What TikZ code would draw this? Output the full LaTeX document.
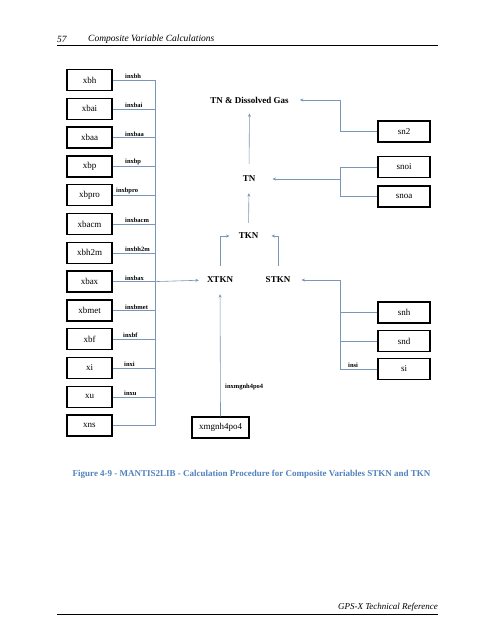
\documentclass[tikz,border=0pt]{standalone}
\usepackage{fontspec}
\setmainfont{Liberation Serif}
\usetikzlibrary{arrows.meta}

\definecolor{linkblue}{HTML}{7A96B8}
\definecolor{captionblue}{HTML}{4F81BD}

\tikzset{
  varbox/.style={draw,line width=1.3pt,minimum width=45pt,minimum height=21pt,inner sep=0pt,font=\fontsize{9}{10}\selectfont},
  sumnode/.style={inner sep=0pt,font=\bfseries\fontsize{9}{10}\selectfont},
  link/.style={draw=linkblue,line width=0.6pt},
  linkarrow/.style={link,-{Stealth[length=3.5pt,width=3pt]},shorten >=10pt},
  inlabel/.style={anchor=south west,inner sep=1pt,font=\bfseries\fontsize{6.5}{7}\selectfont}
}

\begin{document}
\begin{tikzpicture}[x=1pt,y=-1pt]
        \useasboundingbox (0,0) rectangle (495,640);

        % header and footer
        \node[anchor=west,inner sep=0pt,font=\itshape\fontsize{9.5}{11}\selectfont] (pageno) at (57,39) {57};
        \node[anchor=west,inner sep=0pt,font=\itshape\fontsize{9.5}{11}\selectfont] (chapter) at (88,39) {Composite Variable Calculations};
        \draw[line width=1pt] (57,45)--(438,45);
        \node[anchor=east,inner sep=0pt,font=\itshape\fontsize{9}{11}\selectfont] (manual) at (438,607) {GPS-X Technical Reference};
        \draw[line width=0.8pt] (57,614)--(438,614);

        % state variables on the left, all into one bus
        \foreach \name/\lx [count=\i from 0] in {xbh/124,xbai/124,xbaa/124,xbp/124,xbpro/115,xbacm/124,xbh2m/124,xbax/124,xbmet/124,xbf/122,xi/123,xu/123,xns/0}
        {
            \node[varbox] (\name) at (89.5,80+28.8*\i) {\name};
            \coordinate (bus\i) at (155,80+28.8*\i);
            \draw[link] (\name.east)--(bus\i);
            \ifnum\lx>0
                \node[inlabel] (in\name) at (\lx,80+28.8*\i) {in\name};
            \fi
        }
        \draw[link] (bus0)--(bus12);

        % composite variables
        \node[sumnode] (tndg) at (249.5,100) {TN \& Dissolved Gas};
        \node[sumnode] (tn) at (249,179) {TN};
        \node[sumnode] (tkn) at (248.5,236) {TKN};
        \node[sumnode] (xtkn) at (220,280) {XTKN};
        \node[sumnode] (stkn) at (278,280) {STKN};

        \draw[linkarrow,shorten <=12pt] (tn.north)--(tndg.south);
        \draw[linkarrow,shorten <=10pt,shorten >=11pt] (tkn.north)--(tn.south);
        \draw[linkarrow,shorten <=11pt,shorten >=9pt] (xtkn.north)|-(tkn.west);
        \draw[linkarrow,shorten <=11pt,shorten >=13pt] (stkn.north)|-(tkn.east);
        \draw[linkarrow,shorten >=8pt] (bus7)--(xtkn.west);

        % xmgnh4po4 from below
        \node[varbox,minimum width=57pt] (xmgnh4po4) at (220.5,427.5) {xmgnh4po4};
        \node[inlabel,anchor=west] (inxmgnh4po4) at (224,387) {inxmgnh4po4};
        \draw[linkarrow,shorten >=11pt] (xmgnh4po4.north)--(xtkn.south);

        % state variables on the right
        \node[varbox,minimum width=52pt] (sn2) at (404,131.5) {sn2};
        \node[varbox,minimum width=52pt] (snoi) at (404,167) {snoi};
        \node[varbox,minimum width=52pt] (snoa) at (404,196.5) {snoa};
        \node[varbox,minimum width=52pt] (snh) at (404,312.5) {snh};
        \node[varbox,minimum width=52pt] (snd) at (404,341) {snd};
        \node[varbox,minimum width=52pt] (si) at (404,369) {si};
        \node[inlabel] (insi) at (347,369) {insi};

        \coordinate (gasbend) at (340,100);
        \coordinate (orgjoin) at (340,179);
        \coordinate (solbus) at (340,280);

        \draw[linkarrow,shorten >=11pt] (sn2.west)-|(gasbend)--(tndg.east);
        \draw[link] (snoi.west)-|(orgjoin);
        \draw[link] (snoa.west)-|(orgjoin);
        \draw[linkarrow,shorten >=17pt] (orgjoin)--(tn.east);
        \draw[link] (snh.west)-|(solbus);
        \draw[link] (snd.west)-|(solbus);
        \draw[link] (si.west)-|(solbus);
        \draw[linkarrow,shorten >=11pt] (solbus)--(stkn.east);

        % caption
        \node[text=captionblue,inner sep=0pt,font=\bfseries\fontsize{9}{10}\selectfont] (caption) at (251.5,474) {Figure 4-9 - MANTIS2LIB - Calculation Procedure for Composite Variables STKN and TKN};
\end{tikzpicture}
\end{document}
